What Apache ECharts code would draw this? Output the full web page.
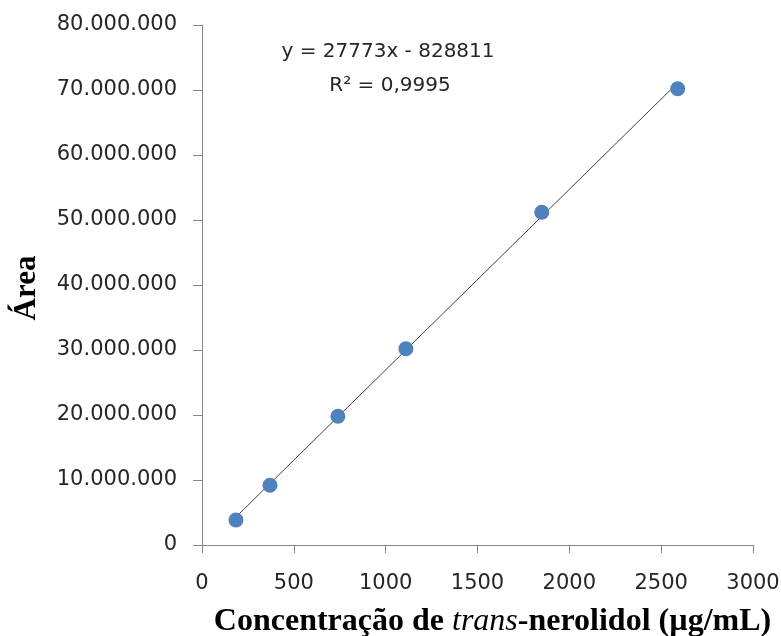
<!DOCTYPE html>
<html><head><meta charset="utf-8">
<script src="https://cdn.jsdelivr.net/npm/echarts@6/dist/echarts.min.js"></script>
<style>html,body{margin:0;padding:0;background:#fff}#c{width:781px;height:636px}</style>
</head><body><div id="c"></div>
<script>
const concentrations = [185, 370, 740, 1110, 1850, 2590];
const areas = [3850000, 9200000, 19800000, 30200000, 51200000, 70200000];
const trendSlope = 27773;
const trendIntercept = -828811;
const equationLines = ['y = 27773x - 828811', 'R² = 0,9995'];

const points = concentrations.map((x, i) => [x, areas[i]]);
const xMin = Math.min(...concentrations), xMax = Math.max(...concentrations);
const trend = [[xMin, trendSlope * xMin + trendIntercept], [xMax, trendSlope * xMax + trendIntercept]];

const axisColor = '#868686';
const labelFont = 'DejaVu Sans';
const chart = echarts.init(document.getElementById('c'));
chart.setOption({
  animation: false,
  backgroundColor: '#fff',
  grid: {left: 202, right: 28, top: 25, bottom: 91, containLabel: false, outerBoundsMode: 'none'},
  xAxis: {
    type: 'value', min: 0, max: 3000, interval: 500,
    axisLine: {lineStyle: {color: axisColor}},
    axisTick: {show: true, length: 8, lineStyle: {color: axisColor}},
    splitLine: {show: false},
    axisLabel: {color: '#262626', fontSize: 21, fontFamily: labelFont, margin: 28,
      formatter: v => String(v)},
    name: '{b|Concentração de }{i|trans}{b|-nerolidol (µg/mL)}',
    nameLocation: 'middle', nameGap: 61,
    nameTextStyle: {padding: [0, 0, 0, 30], rich: {
      b: {fontFamily: 'Liberation Serif', fontWeight: 'bold', fontSize: 32, color: '#000'},
      i: {fontFamily: 'Liberation Serif', fontStyle: 'italic', fontSize: 32, color: '#000'}
    }}
  },
  yAxis: {
    type: 'value', min: 0, max: 80000000, interval: 10000000,
    axisLine: {show: true, lineStyle: {color: axisColor}},
    axisTick: {show: true, length: 9, lineStyle: {color: axisColor}},
    splitLine: {show: false},
    axisLabel: {color: '#262626', fontSize: 21, fontFamily: labelFont, margin: 25,
      formatter: v => String(v).replace(/\B(?=(\d{3})+(?!\d))/g, '.')},
    name: 'Área', nameLocation: 'middle', nameGap: 160, nameRotate: 90,
    nameTextStyle: {fontFamily: 'Liberation Serif', fontWeight: 'bold', fontSize: 31, color: '#000', padding: [0, 6, 0, 0]}
  },
  series: [
    {type: 'line', data: trend, symbol: 'none', lineStyle: {color: '#404040', width: 1}, z: 1, silent: true},
    {type: 'scatter', data: points, symbolSize: 15, itemStyle: {color: '#4F81BD', opacity: 1}, z: 2}
  ],
  graphic: [
    {type: 'text', style: {text: equationLines[0], x: 388, y: 52, align: 'center', verticalAlign: 'middle', fontSize: 20, fontFamily: labelFont, fill: '#262626'}},
    {type: 'text', style: {text: equationLines[1], x: 390, y: 86, align: 'center', verticalAlign: 'middle', fontSize: 20, fontFamily: labelFont, fill: '#262626'}}
  ]
});
</script></body></html>
